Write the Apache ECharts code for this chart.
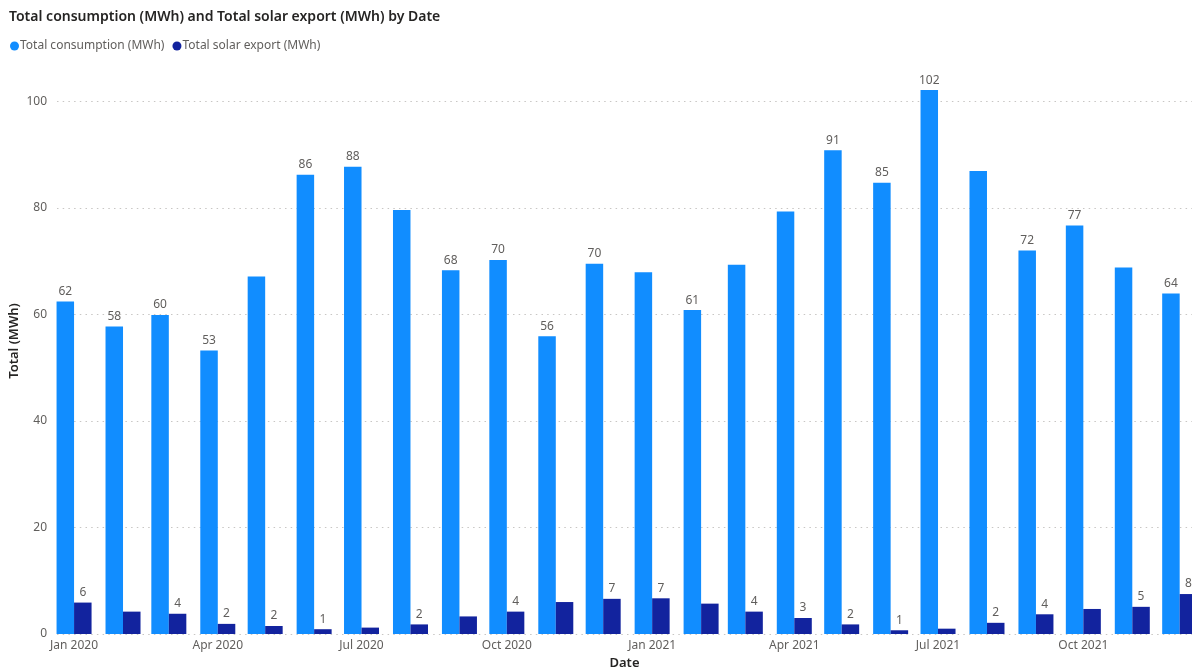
<!DOCTYPE html>
<html>
<head>
<meta charset="utf-8">
<title>Total consumption and solar export by Date</title>
<script src="https://cdn.jsdelivr.net/npm/echarts@6/dist/echarts.min.js"></script>
<style>
  html, body { margin: 0; padding: 0; background: #ffffff; }
  #chart { width: 1192px; height: 672px; }
</style>
</head>
<body>
<div id="chart"></div>
<script>
// Monthly totals, Jan 2020 – Dec 2021
const months = [
  '2020-01', '2020-02', '2020-03', '2020-04', '2020-05', '2020-06',
  '2020-07', '2020-08', '2020-09', '2020-10', '2020-11', '2020-12',
  '2021-01', '2021-02', '2021-03', '2021-04', '2021-05', '2021-06',
  '2021-07', '2021-08', '2021-09', '2021-10', '2021-11', '2021-12'
];
const consumption = [
  62.4, 57.7, 59.9, 53.2, 67.1, 86.2, 87.7, 79.6, 68.3, 70.2, 55.9, 69.5,
  67.9, 60.8, 69.3, 79.3, 90.8, 84.7, 102.1, 86.9, 72.0, 76.7, 68.8, 63.9
];
const solarExport = [
  5.9, 4.2, 3.8, 1.9, 1.5, 0.9, 1.2, 1.8, 3.3, 4.2, 6.0, 6.6,
  6.7, 5.7, 4.2, 3.0, 1.8, 0.7, 1.0, 2.1, 3.7, 4.7, 5.1, 7.5
];
// Which bars carry a value label (the rest are left unlabelled to avoid crowding)
const consumptionLabelled = [
  1, 1, 1, 1, 0, 1, 1, 0, 1, 1, 1, 1,
  0, 1, 0, 0, 1, 1, 1, 0, 1, 1, 0, 1
];
const solarLabelled = [
  1, 0, 1, 1, 1, 1, 0, 1, 0, 1, 0, 1,
  1, 0, 1, 1, 1, 1, 0, 1, 1, 0, 1, 1
];
// Quarter starts shown on the date axis
const dateTicks = ['2020-01', '2020-04', '2020-07', '2020-10', '2021-01', '2021-04', '2021-07', '2021-10'];
const monthNames = ['Jan', 'Feb', 'Mar', 'Apr', 'May', 'Jun', 'Jul', 'Aug', 'Sep', 'Oct', 'Nov', 'Dec'];

// Dates are placed on a continuous day scale so month widths follow calendar length
const ORIGIN = Date.UTC(2020, 0, 1);
const DAY = 864e5;
function toDay(ym) {
  const [y, m] = ym.split('-').map(Number);
  return (Date.UTC(y, m - 1, 1) - ORIGIN) / DAY;
}
function dayLabel(d) {
  const dt = new Date(ORIGIN + Math.round(d) * DAY);
  return monthNames[dt.getUTCMonth()] + ' ' + dt.getUTCFullYear();
}
function buildSeriesData(values, labelled) {
  return months.map((ym, i) => ({
    value: [toDay(ym), values[i]],
    label: { show: !!labelled[i] }
  }));
}

const FONT = '"Noto Sans", "Open Sans", sans-serif';
const valueLabel = {
  position: 'top',
  distance: 4,
  color: '#605E5C',
  fontFamily: FONT,
  fontSize: 12,
  formatter: p => Math.round(p.value[1])
};

const chart = echarts.init(document.getElementById('chart'), null, { renderer: 'canvas' });
chart.setOption({
  animation: false,
  backgroundColor: '#ffffff',
  title: {
    text: 'Total consumption (MWh) and Total solar export (MWh) by Date',
    left: 4,
    top: 5,
    textStyle: { fontFamily: FONT, fontSize: 14, fontWeight: 600, color: '#252423' }
  },
  legend: {
    left: 5,
    top: 35,
    itemGap: 8,
    itemWidth: 9,
    itemHeight: 9,
    icon: 'circle',
    textStyle: { fontFamily: FONT, fontSize: 12, color: '#605E5C', padding: [0, 0, 0, -4] },
    data: ['Total consumption (MWh)', 'Total solar export (MWh)']
  },
  grid: { left: 57, right: 0, top: 48, bottom: 38, outerBoundsMode: 'none', containLabel: false },
  xAxis: {
    type: 'value',
    min: -10.8,
    max: 707.8,
    name: 'Date',
    nameLocation: 'middle',
    nameGap: 23,
    nameMoveOverlap: false,
    nameTextStyle: { fontFamily: FONT, fontSize: 13, fontWeight: 600, color: '#252423' },
    axisLine: { show: false },
    axisTick: { show: false },
    splitLine: { show: false },
    axisLabel: {
      customValues: dateTicks.map(toDay),
      margin: 6,
      fontFamily: FONT,
      fontSize: 12,
      color: '#605E5C',
      formatter: v => dayLabel(v)
    }
  },
  yAxis: {
    type: 'value',
    min: 0,
    max: 110,
    interval: 20,
    name: 'Total (MWh)',
    nameLocation: 'middle',
    nameGap: 36,
    nameMoveOverlap: false,
    nameTextStyle: { fontFamily: FONT, fontSize: 13, fontWeight: 600, color: '#252423' },
    axisLine: { show: false },
    axisTick: { show: false },
    axisLabel: {
      margin: 10,
      showMaxLabel: false,
      fontFamily: FONT,
      fontSize: 12,
      color: '#605E5C'
    },
    splitLine: {
      show: true,
      showMaxLine: false,
      lineStyle: { color: '#C8C6C4', width: 1, type: [1.5, 4.2] }
    }
  },
  series: [
    {
      name: 'Total consumption (MWh)',
      type: 'bar',
      barWidth: 17.5,
      barGap: '0%',
      itemStyle: { color: '#118DFF' },
      label: valueLabel,
      data: buildSeriesData(consumption, consumptionLabelled)
    },
    {
      name: 'Total solar export (MWh)',
      type: 'bar',
      barWidth: 17.5,
      barGap: '0%',
      itemStyle: { color: '#12239E' },
      label: valueLabel,
      data: buildSeriesData(solarExport, solarLabelled)
    }
  ]
});
</script>
</body>
</html>
